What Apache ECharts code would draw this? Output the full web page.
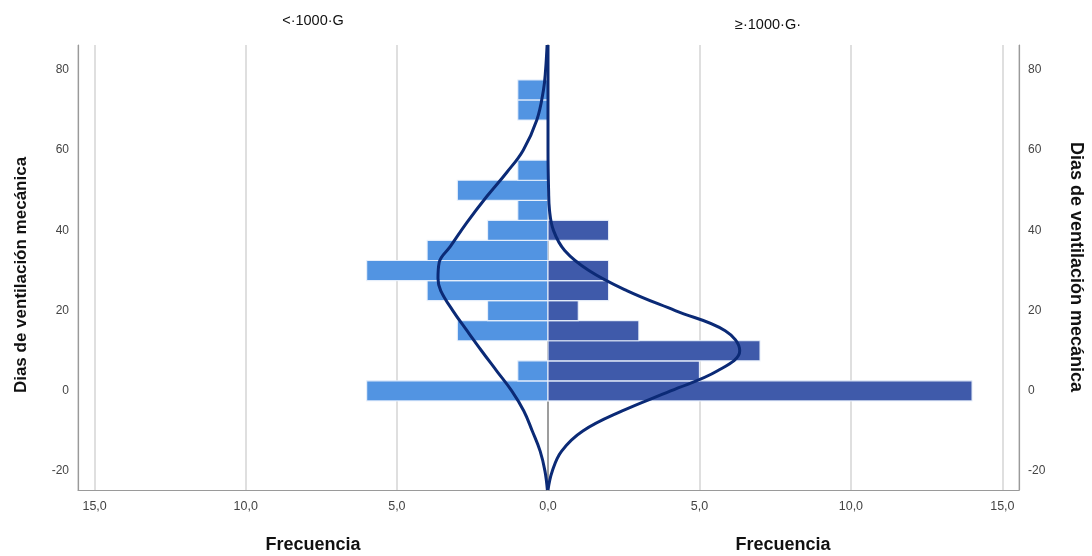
<!DOCTYPE html>
<html>
<head>
<meta charset="utf-8">
<script src="https://cdn.jsdelivr.net/npm/echarts@6/dist/echarts.min.js"></script>
<style>html,body{margin:0;padding:0;background:#fff}#c{width:1092px;height:556px}</style>
</head>
<body>
<div id="c"></div>
<script>
// ---- data ----
const groupLabels = ['<·1000·G', '≥·1000·G·'];
const binCenters = [0, 5, 10, 15, 20, 25, 30, 35, 40, 45, 50, 55, 60, 65, 70, 75];
const leftCounts  = [6, 1, 0, 3, 2, 4, 6, 4, 2, 1, 3, 1, 0, 0, 1, 1];
const rightCounts = [14, 5, 7, 3, 1, 2, 2, 0, 2, 0, 0, 0, 0, 0, 0, 0];
// normal curves (frequency at given day value)
const leftCurveY = [-24.7, -20, -15, -10, -5, 0, 5, 10, 15, 20, 25, 28, 32, 36, 42, 48.5, 54.5, 60, 67.5, 75, 80, 86.2];
const leftCurveX = [0.02, 0.1, 0.26, 0.52, 0.8, 1.2, 1.7, 2.2, 2.68, 3.15, 3.55, 3.64, 3.6, 3.23, 2.68, 2.02, 1.36, 0.82, 0.37, 0.15, 0.08, 0.03];
const rightCurveY = [-24.7, -20, -15, -10, -5, 0, 5, 10, 15, 20, 25, 30, 35, 40, 45, 50, 60, 70, 86.2];
const rightCurveX = [0.0, 0.14, 0.45, 1.15, 2.45, 4.05, 5.6, 6.33, 5.85, 4.2, 2.6, 1.35, 0.55, 0.18, 0.05, 0.02, 0.0, 0.0, 0.0];
const yTickStep = 20;
const xTickStep = 5;
const yMin = -24.7, yMax = 86.2, xMax = 15.55;
const binWidth = 5;
const yTitle = 'Dias de ventilación mecánica';
const xTitle = 'Frecuencia';

const font = "'Liberation Sans', Arial, sans-serif";
const leftColor = '#5294e2';
const rightColor = '#3f5aaa';
const curveColor = '#0b2a76';

function yFmt(v){ return Math.abs(v / yTickStep - Math.round(v / yTickStep)) < 1e-6 ? String(Math.round(v)) : ''; }
function xFmt(v){ return Math.abs(v / xTickStep - Math.round(v / xTickStep)) < 1e-6 ? v.toFixed(1).replace('.', ',') : ''; }
function xFmtNoZero(v){ return Math.abs(v) < 1e-6 ? '' : xFmt(v); }

function barRenderer(color){
  return function(params, api){
    const y = api.value(0), c = api.value(1);
    if (!c) return null;
    const p0 = api.coord([0, y + binWidth / 2]);
    const p1 = api.coord([c, y - binWidth / 2]);
    return {
      type: 'rect',
      shape: { x: Math.min(p0[0], p1[0]), y: p0[1], width: Math.abs(p1[0] - p0[0]), height: p1[1] - p0[1] },
      style: { fill: color, stroke: 'rgba(235,242,252,0.9)', lineWidth: 1.2 }
    };
  };
}

const xAxisCommon = {
  type: 'value', min: 0, max: xMax, splitNumber: 3,
  axisLine: { show: true, onZero: false, lineStyle: { color: '#9a9a9a', width: 1.2 } },
  axisTick: { show: false },
  axisLabel: { formatter: xFmt, color: '#444', fontSize: 12.5, fontFamily: font, margin: 10 },
  splitLine: { show: true, lineStyle: { color: '#d4d4d4', width: 1.5 } }
};
const yAxisCommon = {
  type: 'value', min: yMin, max: yMax, splitNumber: 5,
  axisLine: { show: true, onZero: false, lineStyle: { color: '#9a9a9a', width: 1.2 } },
  axisTick: { show: false },
  splitLine: { show: false },
  axisLabel: { formatter: yFmt, color: '#444', fontSize: 12, fontFamily: font, margin: 9 }
};

const chart = echarts.init(document.getElementById('c'), null, { renderer: 'canvas' });
chart.setOption({
  animation: false,
  backgroundColor: '#fff',
  grid: [
    { left: 78, top: 45, width: 470, height: 445 },
    { left: 548, top: 45, width: 471, height: 445 }
  ],
  xAxis: [
    Object.assign({}, xAxisCommon, { gridIndex: 0, inverse: true,
      axisLabel: Object.assign({}, xAxisCommon.axisLabel, { formatter: xFmtNoZero }) }),
    Object.assign({}, xAxisCommon, { gridIndex: 1 })
  ],
  yAxis: [
    Object.assign({}, yAxisCommon, { gridIndex: 0, position: 'left' }),
    Object.assign({}, yAxisCommon, { gridIndex: 1, position: 'right' }),
    Object.assign({}, yAxisCommon, { gridIndex: 1, position: 'left', axisLabel: { show: false },
      axisLine: { show: true, onZero: false, lineStyle: { color: '#8a8a8a', width: 1.5 } } })
  ],
  series: [
    { type: 'custom', xAxisIndex: 0, yAxisIndex: 0, renderItem: barRenderer(leftColor),
      data: binCenters.map((b, i) => [b, leftCounts[i]]), encode: { x: 1, y: 0 }, z: 3 },
    { type: 'custom', xAxisIndex: 1, yAxisIndex: 1, renderItem: barRenderer(rightColor),
      data: binCenters.map((b, i) => [b, rightCounts[i]]), encode: { x: 1, y: 0 }, z: 3 },
    { type: 'line', xAxisIndex: 0, yAxisIndex: 0, smooth: 0.4, symbol: 'none', z: 5,
      lineStyle: { color: curveColor, width: 3 },
      data: leftCurveY.map((y, i) => [leftCurveX[i], y]) },
    { type: 'line', xAxisIndex: 1, yAxisIndex: 1, smooth: 0.4, symbol: 'none', z: 5,
      lineStyle: { color: curveColor, width: 3 },
      data: rightCurveY.map((y, i) => [rightCurveX[i], y]) }
  ],
  graphic: [
    { type: 'text', x: 313, y: 21, style: { text: groupLabels[0], font: '14.5px ' + font, fill: '#111', textAlign: 'center', textVerticalAlign: 'middle' } },
    { type: 'text', x: 768, y: 25, style: { text: groupLabels[1], font: '14.5px ' + font, fill: '#111', textAlign: 'center', textVerticalAlign: 'middle' } },
    { type: 'text', x: 313, y: 545, style: { text: xTitle, font: 'bold 18px ' + font, fill: '#111', textAlign: 'center', textVerticalAlign: 'middle' } },
    { type: 'text', x: 783, y: 545, style: { text: xTitle, font: 'bold 18px ' + font, fill: '#111', textAlign: 'center', textVerticalAlign: 'middle' } },
    { type: 'text', x: 21, y: 275, rotation: Math.PI / 2, style: { text: yTitle, font: 'bold 17px ' + font, fill: '#111', textAlign: 'center', textVerticalAlign: 'middle' } },
    { type: 'text', x: 1076, y: 267, rotation: -Math.PI / 2, style: { text: yTitle, font: 'bold 18px ' + font, fill: '#111', textAlign: 'center', textVerticalAlign: 'middle' } }
  ]
});
</script>
</body>
</html>
